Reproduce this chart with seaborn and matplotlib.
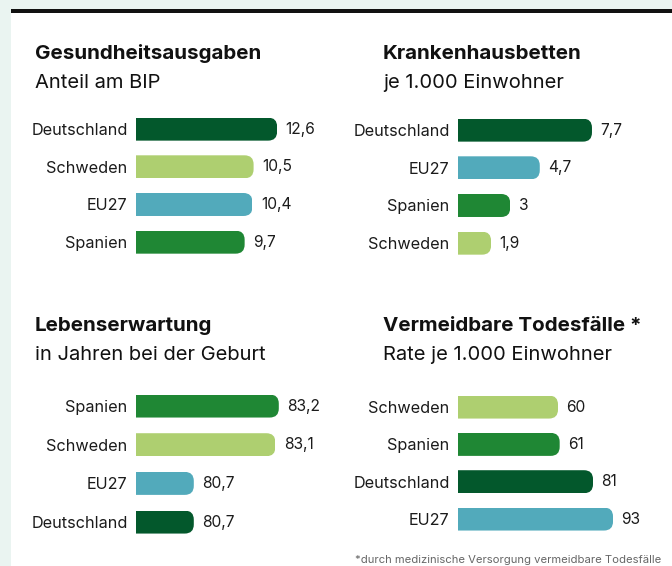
import matplotlib
matplotlib.use("Agg")
import matplotlib.pyplot as plt
import seaborn as sns
import pandas as pd
from matplotlib.patches import Rectangle, FancyBboxPatch
from matplotlib.transforms import IdentityTransform

sns.set_theme(style="white")
plt.rcParams["font.family"] = ["Inter", "DejaVu Sans"]

# ---- data ----
ausgaben_cat = ["Deutschland", "Schweden", "EU27", "Spanien"]
ausgaben_val = [12.6, 10.5, 10.4, 9.7]

betten_cat = ["Deutschland", "EU27", "Spanien", "Schweden"]
betten_val = [7.7, 4.7, 3, 1.9]

leben_cat = ["Spanien", "Schweden", "EU27", "Deutschland"]
leben_val = [83.2, 83.1, 80.7, 80.7]

tod_cat = ["Schweden", "Spanien", "Deutschland", "EU27"]
tod_val = [60, 61, 81, 93]

titles = ["Gesundheitsausgaben", "Krankenhausbetten", "Lebenserwartung", "Vermeidbare Todesfälle *"]
subtitles = ["Anteil am BIP", "je 1.000 Einwohner", "in Jahren bei der Geburt", "Rate je 1.000 Einwohner"]
footnote = "*durch medizinische Versorgung vermeidbare Todesfälle"

palette = {"Deutschland": "#03582c", "Schweden": "#aecf70",
           "EU27": "#52aabb", "Spanien": "#1f8734"}

W, H = 672, 566
fig = plt.figure(figsize=(W / 100, H / 100), dpi=100)
fig.patch.set_facecolor("#eaf4f1")

def px_rect(x0, y0, w, h):
    return [x0 / W, 1 - (y0 + h) / H, w / W, h / H]

# white card + black top line
bg = fig.add_axes([0, 0, 1, 1], zorder=-5)
bg.set_xlim(0, W); bg.set_ylim(H, 0); bg.axis("off")
bg.add_patch(Rectangle((11, 12), W - 11, H - 12, color="white", lw=0))
bg.add_patch(Rectangle((11, 8.5), W - 11, 4, color="#111111", lw=0))

# panel specs: (cats, vals, left px, top px, width px, height px, xlim)
panels = [
    (ausgaben_cat, ausgaben_val, 136, 110.3, 168, 150.7, (0, 15)),
    (betten_cat, betten_val, 458, 111.3, 156.6, 150.7, (0, 9)),
    (leben_cat, leben_val, 136, 386.7, 170, 154.7, (79, 84)),
    (tod_cat, tod_val, 458, 388.4, 166.7, 149.3, (0, 100)),
]
title_pos = [(35, 59), (383, 59), (35, 331), (383, 331)]

def fmt(v):
    return f"{v:g}".replace(".", ",")

txt_color = "#1b1b1b"
for i, (cats, vals, l, t, w, h, xl) in enumerate(panels):
    ax = fig.add_axes(px_rect(l, t, w, h))
    df = pd.DataFrame({"cat": cats, "val": vals})
    bar_w = 23 / (h / 4)
    sns.barplot(data=df, x="val", y="cat", hue="cat", palette=palette,
                orient="h", width=bar_w, legend=False, ax=ax, saturation=1)
    ax.set_xlim(*xl)
    ax.set_ylim(3.5, -0.5)
    for s in ax.spines.values():
        s.set_visible(False)
    ax.set_xticks([])
    ax.set_xlabel(""); ax.set_ylabel("")
    ax.set_facecolor("none")
    ax.tick_params(axis="y", length=0, pad=6, labelsize=11.7, labelcolor=txt_color)
    # rounded right end
    r = 9
    for p in ax.patches:
        x0, y0 = ax.transData.transform((p.get_x(), p.get_y()))
        x1, y1 = ax.transData.transform((p.get_x() + p.get_width(), p.get_y() + p.get_height()))
        xa, xb = min(x0, x1), max(x0, x1)
        ya, yb = min(y0, y1), max(y0, y1)
        clip = FancyBboxPatch((xa - 3 * r, ya), (xb - xa) + 3 * r, yb - ya,
                              boxstyle=f"round,pad=0,rounding_size={r}",
                              transform=IdentityTransform())
        p.set_clip_path(clip)
        p.set_clip_on(True)
        p.set_linewidth(0)
    for c in ax.containers:
        ax.bar_label(c, labels=[fmt(v) for v in c.datavalues], padding=6,
                     fontsize=11.2, color=txt_color)
    tx, ty = title_pos[i]
    fig.text(tx / W, 1 - ty / H, titles[i], fontsize=14.8, fontweight="bold",
             color="#111111", va="baseline", ha="left")
    fig.text(tx / W, 1 - (ty + 29) / H, subtitles[i], fontsize=14.5,
             color="#111111", va="baseline", ha="left")

fig.text(355 / W, 1 - 563 / H, footnote, fontsize=8.1, color="#666666",
         va="baseline", ha="left")

fig.savefig("out.png", dpi=100, facecolor=fig.get_facecolor())
